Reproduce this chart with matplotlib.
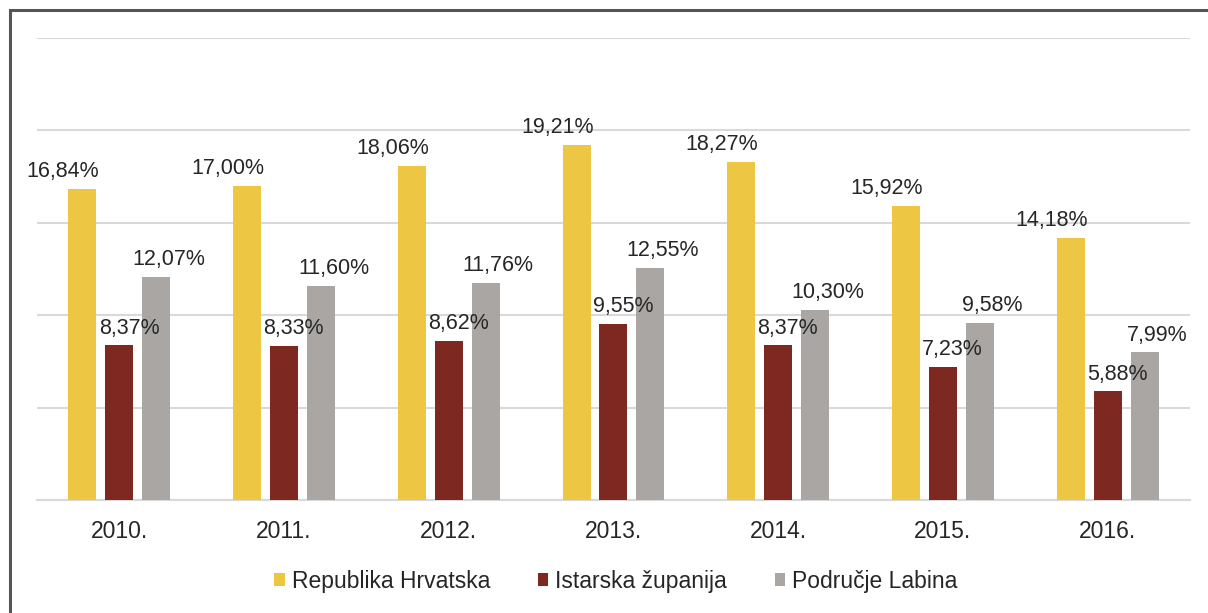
import numpy as np
import matplotlib.pyplot as plt
from matplotlib.patches import Rectangle

plt.rcParams['font.family'] = ['Liberation Sans', 'DejaVu Sans']

years = ['2010.', '2011.', '2012.', '2013.', '2014.', '2015.', '2016.']
hrvatska = [16.84, 17.00, 18.06, 19.21, 18.27, 15.92, 14.18]
istra = [8.37, 8.33, 8.62, 9.55, 8.37, 7.23, 5.88]
labin = [12.07, 11.60, 11.76, 12.55, 10.30, 9.58, 7.99]
series_names = ['Republika Hrvatska', 'Istarska županija', 'Područje Labina']

colors = ['#EDC744', '#7E2822', '#A9A6A4']
label_dx = [-14, 7, 9]  # label offsets in points, as in the original

fig = plt.figure(figsize=(12.08, 6.13), dpi=100)
ax = fig.add_axes([0.0306, 0.184, 0.9545, 0.754])

# outer frame
fig.patches.append(Rectangle((10 / 1208, -0.1), 1.2, 1 - 10 / 613 + 0.1,
                             transform=fig.transFigure, fill=False,
                             edgecolor='#555555', linewidth=2.2))

x = np.arange(len(years))
step = 0.224
width = 0.17
for i, (vals, name) in enumerate(zip([hrvatska, istra, labin], series_names)):
    pos = x + (i - 1) * step
    ax.bar(pos, vals, width=width, color=colors[i], label=name, zorder=3)
    for px, v in zip(pos, vals):
        ax.annotate(f'{v:.2f}%'.replace('.', ','), (px, v),
                    xytext=(label_dx[i], 5), textcoords='offset points',
                    ha='center', va='bottom', fontsize=15.5, color='#262626',
                    zorder=4)

ax.set_xlim(-0.5, len(years) - 0.5)
ax.set_ylim(0, 25)
ax.set_yticks(np.arange(0, 26, 5))
ax.yaxis.grid(True, color='#d9d9d9', linewidth=1.5, zorder=0)
ax.set_yticklabels([])
ax.tick_params(axis='y', length=0)
ax.set_xticks(x)
ax.set_xticklabels(years, fontsize=16.5, color='#262626')
ax.tick_params(axis='x', length=0, pad=14)
for s in ['top', 'right', 'left']:
    ax.spines[s].set_visible(False)
ax.spines['bottom'].set_color('#d9d9d9')
ax.spines['bottom'].set_linewidth(1.5)

handles, labels = ax.get_legend_handles_labels()
fig.legend(handles, labels, loc='center', bbox_to_anchor=(0.51, 0.052),
           ncol=3, frameon=False, fontsize=16.5, handlelength=0.45,
           handleheight=0.45, handletextpad=0.3, columnspacing=2.1,
           labelcolor='#262626')

fig.savefig('out.png', dpi=100)
